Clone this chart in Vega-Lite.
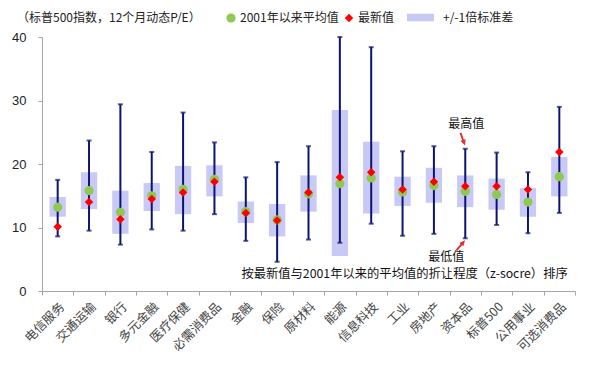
{
  "$schema": "https://vega.github.io/schema/vega-lite/v6.json",
  "width": 533,
  "height": 254,
  "autosize": {"type": "none"},
  "padding": {"left": 42, "top": 37, "right": 20, "bottom": 75},
  "background": "white",
  "config": {
    "view": {"stroke": null},
    "font": "Noto Sans CJK SC",
    "axis": {"grid": false},
    "legend": {"labelFont": "Noto Sans CJK SC", "labelFontSize": 12, "labelColor": "#222", "symbolStrokeWidth": 0}
  },
  "data": {
    "values": [
      {"cat": "电信服务", "min": 8.6, "max": 17.5, "lo": 11.7, "hi": 14.8, "mean": 13.2, "latest": 10.1},
      {"cat": "交通运输", "min": 9.5, "max": 23.7, "lo": 12.9, "hi": 18.7, "mean": 15.8, "latest": 14.0},
      {"cat": "银行", "min": 7.3, "max": 29.4, "lo": 9.0, "hi": 15.8, "mean": 12.4, "latest": 11.3},
      {"cat": "多元金融", "min": 9.7, "max": 21.9, "lo": 12.6, "hi": 17.0, "mean": 15.0, "latest": 14.5},
      {"cat": "医疗保健", "min": 9.5, "max": 28.1, "lo": 12.1, "hi": 19.7, "mean": 16.0, "latest": 15.5},
      {"cat": "必需消费品", "min": 12.1, "max": 23.4, "lo": 14.9, "hi": 19.8, "mean": 17.6, "latest": 17.2},
      {"cat": "金融", "min": 7.9, "max": 17.9, "lo": 10.7, "hi": 14.1, "mean": 12.5, "latest": 12.3},
      {"cat": "保险", "min": 4.6, "max": 20.3, "lo": 8.6, "hi": 13.7, "mean": 11.2, "latest": 11.1},
      {"cat": "原材料", "min": 8.1, "max": 22.8, "lo": 12.5, "hi": 18.2, "mean": 15.3, "latest": 15.5},
      {"cat": "能源", "min": 7.6, "max": 40.0, "lo": 5.5, "hi": 28.5, "mean": 16.9, "latest": 17.9},
      {"cat": "信息科技", "min": 10.6, "max": 38.4, "lo": 12.2, "hi": 23.5, "mean": 17.8, "latest": 18.7},
      {"cat": "工业", "min": 8.7, "max": 22.0, "lo": 13.4, "hi": 18.0, "mean": 15.6, "latest": 16.0},
      {"cat": "房地产", "min": 9.0, "max": 22.8, "lo": 13.9, "hi": 19.4, "mean": 16.6, "latest": 17.2},
      {"cat": "资本品", "min": 8.3, "max": 22.4, "lo": 13.2, "hi": 18.2, "mean": 15.7, "latest": 16.5},
      {"cat": "标普500", "min": 10.4, "max": 21.8, "lo": 12.8, "hi": 17.7, "mean": 15.2, "latest": 16.5},
      {"cat": "公用事业", "min": 9.1, "max": 18.7, "lo": 11.7, "hi": 16.2, "mean": 14.0, "latest": 16.0},
      {"cat": "可选消费品", "min": 12.3, "max": 29.0, "lo": 14.9, "hi": 21.1, "mean": 18.0, "latest": 21.9}
    ]
  },
  "encoding": {
    "x": {
      "field": "cat",
      "type": "nominal",
      "sort": null,
      "scale": {"paddingInner": 0, "paddingOuter": 0},
      "axis": {
        "title": null,
        "labelAngle": -45,
        "labelFontSize": 12.5,
        "labelFont": "Noto Sans CJK SC",
        "labelColor": "#444",
        "labelPadding": 5,
        "tickBand": "extent",
        "tickSize": 4,
        "tickColor": "#a6a6a6",
        "domainColor": "#a6a6a6"
      }
    }
  },
  "layer": [
    {
      "mark": {"type": "bar", "width": {"band": 0.52}},
      "encoding": {
        "y": {
          "field": "lo",
          "type": "quantitative",
          "scale": {"domain": [0, 40], "nice": false},
          "axis": {
            "title": null,
            "values": [0, 10, 20, 30, 40],
            "labelFont": "Liberation Sans",
            "labelFontSize": 13,
            "labelColor": "#222",
            "labelPadding": 12,
            "tickSize": 4,
            "tickColor": "#a6a6a6",
            "domainColor": "#a6a6a6"
          }
        },
        "y2": {"field": "hi"},
        "fill": {
          "datum": "+/-1倍标准差",
          "scale": {"range": ["#c8caf5"]},
          "legend": {
            "title": null,
            "orient": "none",
            "legendX": 365,
            "legendY": -33,
            "symbolType": "M-1,-0.28H1V0.28H-1Z",
            "symbolSize": 729,
            "labelOffset": 9,
            "symbolStrokeWidth": 0
          }
        }
      }
    },
    {
      "mark": {"type": "rule", "color": "#0c1470", "strokeWidth": 2},
      "encoding": {
        "y": {"field": "min", "type": "quantitative"},
        "y2": {"field": "max"}
      }
    },
    {
      "mark": {"type": "tick", "color": "#0c1470", "thickness": 2, "size": 5},
      "encoding": {"y": {"field": "max", "type": "quantitative"}}
    },
    {
      "mark": {"type": "tick", "color": "#0c1470", "thickness": 2, "size": 5},
      "encoding": {"y": {"field": "min", "type": "quantitative"}}
    },
    {
      "transform": [{"fold": ["mean", "latest"], "as": ["key", "value"]}],
      "mark": {"type": "point", "filled": true, "opacity": 1},
      "encoding": {
        "y": {"field": "value", "type": "quantitative"},
        "color": {
          "field": "key",
          "type": "nominal",
          "scale": {"domain": ["mean", "latest"], "range": ["#8fc852", "#ff0000"]},
          "legend": {
            "title": "（标普500指数，12个月动态P/E）",
            "titleOrient": "left",
            "titleFont": "Noto Sans CJK SC",
            "titleFontSize": 12,
            "titleFontWeight": "normal",
            "titleColor": "#222",
            "titleLimit": 400,
            "titlePadding": 24,
            "titleBaseline": "middle",
            "orient": "none",
            "direction": "horizontal",
            "legendX": -25,
            "legendY": -25,
            "symbolSize": 40,
            "labelOffset": 3,
            "columnPadding": 4,
            "labelExpr": "datum.label == 'mean' ? '2001年以来平均值' : '最新值'"
          }
        },
        "shape": {
          "field": "key",
          "type": "nominal",
          "scale": {"domain": ["mean", "latest"], "range": ["circle", "diamond"]},
          "legend": {
            "title": "（标普500指数，12个月动态P/E）",
            "titleOrient": "left",
            "titleFont": "Noto Sans CJK SC",
            "titleFontSize": 12,
            "titleFontWeight": "normal",
            "titleColor": "#222",
            "titleLimit": 400,
            "titlePadding": 24,
            "titleBaseline": "middle",
            "orient": "none",
            "direction": "horizontal",
            "legendX": -25,
            "legendY": -25,
            "symbolSize": 40,
            "labelOffset": 3,
            "columnPadding": 4,
            "labelExpr": "datum.label == 'mean' ? '2001年以来平均值' : '最新值'"
          }
        },
        "size": {
          "field": "key",
          "type": "nominal",
          "scale": {"domain": ["mean", "latest"], "range": [85, 72]},
          "legend": null
        }
      }
    },
    {
      "data": {"values": [{"cat": "资本品", "y": 26.3, "label": "最高值"}]},
      "mark": {"type": "text", "fontSize": 12, "font": "Noto Sans CJK SC", "color": "#111", "dx": 1},
      "encoding": {"y": {"field": "y", "type": "quantitative"}, "text": {"field": "label"}}
    },
    {
      "data": {"values": [{"cat": "资本品", "y": 5.3, "label": "最低值"}]},
      "mark": {"type": "text", "fontSize": 12, "font": "Noto Sans CJK SC", "color": "#111", "dx": -19},
      "encoding": {"y": {"field": "y", "type": "quantitative"}, "text": {"field": "label"}}
    },
    {
      "data": {"values": [{"cat": "工业", "y": 2.75, "label": "按最新值与2001年以来的平均值的折让程度（z-socre）排序"}]},
      "mark": {"type": "text", "fontSize": 12.3, "font": "Noto Sans CJK SC", "color": "#111", "dx": 2},
      "encoding": {"y": {"field": "y", "type": "quantitative"}, "text": {"field": "label"}}
    },
    {
      "data": {"values": [{"cat": "资本品", "y": 23.9}]},
      "mark": {"type": "point", "shape": "arrow", "filled": true, "color": "#e03030", "size": 180, "angle": 160, "xOffset": -2.5, "opacity": 1},
      "encoding": {"y": {"field": "y", "type": "quantitative"}}
    },
    {
      "data": {"values": [{"cat": "资本品", "y": 7.2}]},
      "mark": {"type": "point", "shape": "arrow", "filled": true, "color": "#e03030", "size": 180, "angle": 40, "xOffset": -4.5, "opacity": 1},
      "encoding": {"y": {"field": "y", "type": "quantitative"}}
    }
  ]
}
